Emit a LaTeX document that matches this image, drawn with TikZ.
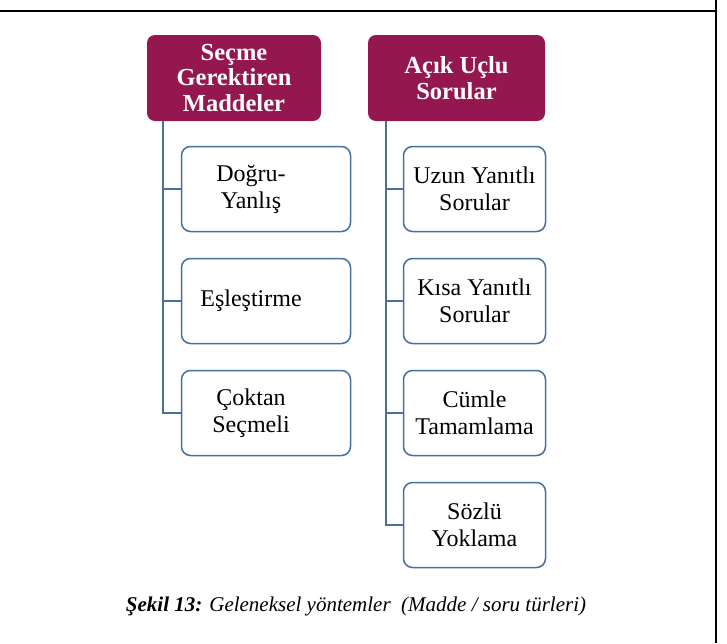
\documentclass[tikz,border=0pt]{standalone}
\usepackage{fontspec}
\setmainfont{Liberation Serif}
\usetikzlibrary{positioning}
\definecolor{headcolor}{RGB}{149,23,79}
\definecolor{edgecolor}{RGB}{72,112,158}
\tikzstyle{header} = [rectangle, rounded corners=8pt,
                      minimum height=86pt, align=center,
                      fill=headcolor, text=white,
                      font=\fontsize{24.5}{25.5}\selectfont\bfseries]
\tikzstyle{item} = [rectangle, rounded corners=9pt,
                    minimum height=85pt, align=center,
                    draw=edgecolor, fill=white, line width=1.5pt,
                    font=\fontsize{24}{27}\selectfont]
\tikzstyle{itemtext} = [align=center, xshift=-15pt,
                        font=\fontsize{24}{27}\selectfont]
\tikzstyle{link} = [draw=edgecolor, line width=1.5pt]

\begin{document}
\begin{tikzpicture}[x=1pt, y=1pt, node distance=25.5pt]
    \useasboundingbox (0,0) rectangle (727,-643);

    % frame
    \draw [line width=2pt] (0,-11) -- (716,-11);
    \draw [line width=2pt] (716,0) -- (716,-643);

    \node (Secme) [header, minimum width=174pt] at (234,-78) {Seçme\\Gerektiren\\Maddeler};
    \node (Acik) [header, minimum width=177pt] at (456.5,-78) {Açık Uçlu\\Sorular};

    % left column, text sits a bit left of the box centre
    \node (Dogru) [item, minimum width=169pt, label={[itemtext]center:{Doğru-\\Yanlış}}] at (266,-189) {};
    \node (Esles) [item, minimum width=169pt, below=of Dogru, label={[itemtext]center:Eşleştirme}] {};
    \node (Coktan) [item, minimum width=169pt, below=of Esles, label={[itemtext]center:{Çoktan\\Seçmeli}}] {};

    \node (Uzun) [item, minimum width=142pt] at (474.5,-189) {Uzun Yanıtlı\\Sorular};
    \node (Kisa) [item, minimum width=142pt, below=of Uzun] {Kısa Yanıtlı\\Sorular};
    \node (Cumle) [item, minimum width=142pt, below=of Kisa] {Cümle\\Tamamlama};
    \node (Sozlu) [item, minimum width=142pt, below=of Cumle] {Sözlü\\Yoklama};

    \draw [link] ([xshift=16pt]Secme.south west) |- (Dogru.west);
    \draw [link] ([xshift=16pt]Secme.south west) |- (Esles.west);
    \draw [link] ([xshift=16pt]Secme.south west) |- (Coktan.west);

    \draw [link] ([xshift=18pt]Acik.south west) |- (Uzun.west);
    \draw [link] ([xshift=18pt]Acik.south west) |- (Kisa.west);
    \draw [link] ([xshift=18pt]Acik.south west) |- (Cumle.west);
    \draw [link] ([xshift=18pt]Acik.south west) |- (Sozlu.west);

    \node (Caption) at (356,-606) {\fontsize{21}{24}\selectfont\textbf{\textit{Şekil 13:}} \textit{Geleneksel yöntemler\ \ (Madde / soru türleri)}};
\end{tikzpicture}
\end{document}
